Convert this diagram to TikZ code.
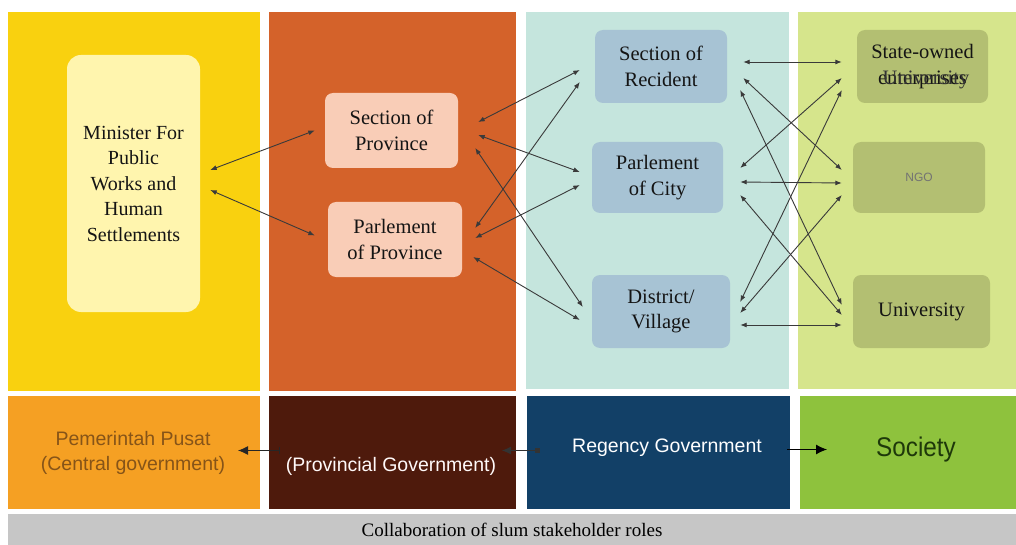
\documentclass[tikz,border=0pt]{standalone}
\usepackage{fontspec}
\setmainfont{Liberation Serif}
\setsansfont{Liberation Sans}
\usetikzlibrary{arrows.meta}

\definecolor{colyellow}{HTML}{F9D10F}
\definecolor{colorange}{HTML}{D4622A}
\definecolor{colteal}{HTML}{C5E5DD}
\definecolor{collime}{HTML}{D6E58C}
\definecolor{lvlorange}{HTML}{F5A023}
\definecolor{lvlbrown}{HTML}{4E1A0C}
\definecolor{lvlnavy}{HTML}{124067}
\definecolor{lvlgreen}{HTML}{8EC23D}
\definecolor{capgray}{HTML}{C6C6C6}
\definecolor{minfill}{HTML}{FFF5AE}
\definecolor{provfill}{HTML}{F9CDB7}
\definecolor{cityfill}{HTML}{A7C3D4}
\definecolor{partfill}{HTML}{B3BF72}
\definecolor{linkgray}{HTML}{3A3A3A}
\definecolor{pusattext}{HTML}{865418}
\definecolor{soctext}{HTML}{1E380A}

\tikzstyle{panel} = [inner sep=0pt, outer sep=0pt, anchor=north west]
\tikzstyle{role} = [rounded corners=8pt, align=center, inner sep=0pt, text=black!92,
    font=\fontsize{20.5}{25.5}\selectfont]
\tikzstyle{provbox} = [role, fill=provfill, minimum width=133pt, minimum height=75pt]
\tikzstyle{citybox} = [role, fill=cityfill, minimum height=73pt]
\tikzstyle{partbox} = [role, fill=partfill, minimum height=73pt]
\tikzstyle{gov} = [align=center, font=\sffamily\fontsize{19.5}{25}\selectfont]
\tikzstyle{link} = [{Latex[length=6.5pt,width=5pt]}-{Latex[length=6.5pt,width=5pt]},
    draw=linkgray, line width=0.9pt]

\begin{document}
\begin{tikzpicture}[x=1pt, y=-1pt]
\useasboundingbox[fill=white] (0,0) rectangle (1016,545);

% stakeholder columns
\node[panel, fill=colyellow, minimum width=252pt, minimum height=379pt] (central) at (8,12) {};
\node[panel, fill=colorange, minimum width=247pt, minimum height=379pt] (province) at (269,12) {};
\node[panel, fill=colteal, minimum width=263pt, minimum height=377pt] (regency) at (526,12) {};
\node[panel, fill=collime, minimum width=218pt, minimum height=377pt] (society) at (798,12) {};

% government levels
\node[panel, fill=lvlorange, minimum width=252pt, minimum height=113pt] (centralbar) at (8,396) {};
\node[panel, fill=lvlbrown, minimum width=247pt, minimum height=113pt] (provbar) at (269,396) {};
\node[panel, fill=lvlnavy, minimum width=263pt, minimum height=113pt] (regbar) at (527,396) {};
\node[panel, fill=lvlgreen, minimum width=216pt, minimum height=113pt] (socbar) at (800,396) {};
\node[panel, fill=capgray, minimum width=1008pt, minimum height=31pt] (caption) at (8,514) {};

\node[gov, text=pusattext] (cgov) at (133,453) {Pemerintah Pusat\\(Central government)};
\node[gov, text=white!90!pink] (pgov) at (391,466) {(Provincial Government)};
\node[gov, text=white] (rgov) at (667,448) {Regency Government};
\node[gov, text=soctext, font=\sffamily\fontsize{27}{30}\selectfont] (soc) at (916,450)
    {\scalebox{0.9}[1]{Society}};
\node[font=\fontsize{19}{22}\selectfont] (captext) at (caption.center) {Collaboration of slum stakeholder roles};

% role boxes
\node[role, rounded corners=14pt, fill=minfill, minimum width=133pt, minimum height=257pt,
    font=\fontsize{20}{25.5}\selectfont] (minister) at (133.5,183.5)
    {Minister For\\Public\\Works and\\Human\\Settlements};
\node[provbox] (secprov) at (391.5,130.5) {Section of\\Province};
\node[provbox, minimum width=134pt] (parprov) at (395,239.5) {Parlement\\of Province};
\node[citybox, minimum width=132pt] (secres) at (661,66.5) {Section of\\Recident};
\node[citybox, minimum width=131pt, minimum height=71pt] (parcity) at (657.5,177.5) {Parlement\\of City};
\node[citybox, minimum width=138pt] (village) at (661,311.5) {District/\\Village};
\node[partbox, minimum width=131pt] (stateco) at (922.5,66.5) {State-owned\\enterprises};
\node[font=\fontsize{20.5}{25.5}\selectfont, text=black!80] (univover) at (926,80) {University};
\node[partbox, minimum width=132pt, minimum height=71pt, text=black!55,
    font=\sffamily\fontsize{12}{14}\selectfont] (ngo) at (919,177.5) {NGO};
\node[partbox, minimum width=137pt] (univ) at (921.5,311.5) {University};

% ministry to province
\draw[link] ([shift={(10,-13.5)}]minister.east) -- ([shift={(-10,0)}]secprov.west);
\draw[link] ([shift={(10,6.5)}]minister.east) -- ([shift={(-13,-4)}]parprov.west);

% province to regency
\draw[link] ([shift={(20,-8.5)}]secprov.east) -- ([shift={(-15,3.5)}]secres.west);
\draw[link] ([shift={(20,4.5)}]secprov.east) -- ([shift={(-12,-5.5)}]parcity.west);
\draw[link] ([shift={(17,17.5)}]secprov.east) -- ([shift={(-9,-4.5)}]village.west);
\draw[link] ([shift={(13,-11.5)}]parprov.east) -- ([shift={(-15,15.5)}]secres.west);
\draw[link] ([shift={(13,-1.5)}]parprov.east) -- ([shift={(-12,7.5)}]parcity.west);
\draw[link] ([shift={(11,17.5)}]parprov.east) -- ([shift={(-12,8.5)}]village.west);

% regency to society
\draw[link] ([shift={(16,-4.5)}]secres.east) -- ([shift={(-15,-4.5)}]stateco.west);
\draw[link] ([shift={(16,11.5)}]secres.east) -- ([shift={(-11,-7.5)}]ngo.west);
\draw[link] ([shift={(13,23.5)}]secres.east) -- ([shift={(-11,-6.5)}]univ.west);
\draw[link] ([shift={(17,-9.5)}]parcity.east) -- ([shift={(-15,11.5)}]stateco.west);
\draw[link] ([shift={(17,4.5)}]parcity.east) -- ([shift={(-11,5.5)}]ngo.west);
\draw[link] ([shift={(17,17.5)}]parcity.east) -- ([shift={(-11,3.5)}]univ.west);
\draw[link] ([shift={(10,-9.5)}]village.east) -- ([shift={(-15,23.5)}]stateco.west);
\draw[link] ([shift={(10,1.5)}]village.east) -- ([shift={(-11,17.5)}]ngo.west);
\draw[link] ([shift={(10,13.5)}]village.east) -- ([shift={(-11,13.5)}]univ.west);

% level arrows
\draw[{Bar[width=7pt]}-{Latex[length=10pt,width=9pt]}, draw=black!85, line width=1pt]
    ([shift={(11,-2)}]provbar.west) -- ([shift={(-22,-2)}]centralbar.east);
\draw[{Square[length=5pt,width=5pt]}-{Latex[length=9pt,width=8pt]}, draw=black!80, line width=1pt]
    ([shift={(13,-2)}]regbar.west) -- ([shift={(-14,-2)}]provbar.east);
\draw[-{Latex[length=11pt,width=10pt]}, draw=black, line width=1pt]
    ([shift={(-3,-3)}]regbar.east) -- ([shift={(27,-3)}]socbar.west);
\end{tikzpicture}
\end{document}
